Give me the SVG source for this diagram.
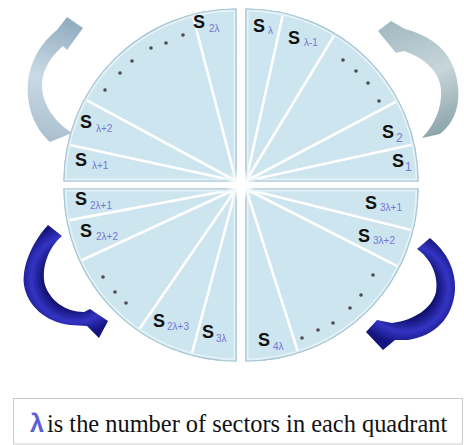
<svg xmlns="http://www.w3.org/2000/svg" xmlns:xlink="http://www.w3.org/1999/xlink" width="464" height="445" viewBox="0 0 464 445">
  <defs>
    <style>
      .quad { fill: #cde5ee; stroke: #a9c8d5; stroke-width: 1.2; }
      .rim { fill: none; stroke: #e4f1f6; stroke-width: 5; }
      .sector { stroke: #ffffff; stroke-width: 2.6; stroke-linecap: round; }
      .dot { fill: #4d4d4d; }
      .s { font-family: "Liberation Sans", Arial, sans-serif; font-weight: bold; font-size: 18px; fill: #111111; }
      .sub { font-family: "Liberation Sans", Arial, sans-serif; font-size: 10px; fill: #7676d6; }
      .subn { font-family: "Liberation Sans", Arial, sans-serif; font-size: 12px; fill: #7676d6; }
      .lam { font-family: "Liberation Sans", Arial, sans-serif; font-weight: bold; font-size: 25px; fill: #5e5ed8; }
    </style>

    <!-- quadrant outlines -->
    <path id="qTL" d="M236,181 L64,181 A172,172 0 0 1 236,9 Z"/>
    <path id="qTR" d="M246,181 L246,9 A172,172 0 0 1 418,181 Z"/>
    <path id="qBL" d="M236,189 L236,361 A172,172 0 0 1 64,189 Z"/>
    <path id="qBR" d="M246,189 L418,189 A172,172 0 0 1 246,361 Z"/>
    <clipPath id="cTL"><use xlink:href="#qTL"/></clipPath>
    <clipPath id="cTR"><use xlink:href="#qTR"/></clipPath>
    <clipPath id="cBL"><use xlink:href="#qBL"/></clipPath>
    <clipPath id="cBR"><use xlink:href="#qBR"/></clipPath>

    <!-- arrow shading -->
    <linearGradient id="gLightL" gradientUnits="userSpaceOnUse" x1="80" y1="20" x2="40" y2="145">
      <stop offset="0" stop-color="#8ea9bd"/>
      <stop offset="0.5" stop-color="#c9dae5"/>
      <stop offset="1" stop-color="#a6bccb"/>
    </linearGradient>
    <linearGradient id="gLightR" gradientUnits="userSpaceOnUse" x1="385" y1="25" x2="430" y2="140">
      <stop offset="0" stop-color="#a3bac1"/>
      <stop offset="0.5" stop-color="#c7d6da"/>
      <stop offset="1" stop-color="#8aa2a9"/>
    </linearGradient>
    <radialGradient id="gDarkL" gradientUnits="userSpaceOnUse" cx="75" cy="278" r="56">
      <stop offset="0.55" stop-color="#10106e"/>
      <stop offset="0.78" stop-color="#3434c4"/>
      <stop offset="1" stop-color="#15157f"/>
    </radialGradient>
    <radialGradient id="gDarkR" gradientUnits="userSpaceOnUse" cx="405" cy="288" r="56">
      <stop offset="0.55" stop-color="#10106e"/>
      <stop offset="0.78" stop-color="#3434c4"/>
      <stop offset="1" stop-color="#15157f"/>
    </radialGradient>
    <radialGradient id="gGlow" cx="0.5" cy="0.5" r="0.5">
      <stop offset="0" stop-color="#ffffff" stop-opacity="1"/>
      <stop offset="0.5" stop-color="#ffffff" stop-opacity="0.8"/>
      <stop offset="1" stop-color="#ffffff" stop-opacity="0"/>
    </radialGradient>
  </defs>

  <rect width="464" height="445" fill="#ffffff"/>

  <!-- quadrant 1: sectors S1 .. Sλ -->
  <g id="quadrant-top-right">
    <use xlink:href="#qTR" class="quad"/>
    <line class="sector" x1="246" y1="181" x2="414.2" y2="144.3"/>
    <line class="sector" x1="246" y1="181" x2="398.6" y2="100.3"/>
    <line class="sector" x1="246" y1="181" x2="335" y2="34"/>
    <line class="sector" x1="246" y1="181" x2="283.2" y2="13"/>
    <use xlink:href="#qTR" class="rim" clip-path="url(#cTR)"/>
    <use xlink:href="#qTR" fill="none" stroke="#a9c8d5" stroke-width="1.2"/>
    <circle class="dot" cx="343" cy="60" r="1.8"/>
    <circle class="dot" cx="356" cy="71" r="1.8"/>
    <circle class="dot" cx="368" cy="83" r="1.8"/>
    <circle class="dot" cx="379" cy="101" r="1.8"/>
    <text class="s" x="253" y="32">S</text><text class="sub" x="268" y="34">λ</text>
    <text class="s" x="288" y="44">S</text><text class="sub" x="304" y="46">λ-1</text>
    <text class="s" x="382" y="138">S</text><text class="subn" x="396" y="142">2</text>
    <text class="s" x="392" y="167">S</text><text class="subn" x="405" y="171">1</text>
  </g>

  <!-- quadrant 2: sectors Sλ+1 .. S2λ -->
  <g id="quadrant-top-left">
    <use xlink:href="#qTL" class="quad"/>
    <line class="sector" x1="236" y1="181" x2="67.9" y2="144.6"/>
    <line class="sector" x1="236" y1="181" x2="84.7" y2="99.2"/>
    <line class="sector" x1="236" y1="181" x2="192.4" y2="14.6"/>
    <use xlink:href="#qTL" class="rim" clip-path="url(#cTL)"/>
    <use xlink:href="#qTL" fill="none" stroke="#a9c8d5" stroke-width="1.2"/>
    <circle class="dot" cx="105" cy="90" r="1.8"/>
    <circle class="dot" cx="120" cy="73" r="1.8"/>
    <circle class="dot" cx="132" cy="61" r="1.8"/>
    <circle class="dot" cx="151" cy="48" r="1.8"/>
    <circle class="dot" cx="166" cy="43" r="1.8"/>
    <circle class="dot" cx="183" cy="35" r="1.8"/>
    <text class="s" x="193" y="28">S</text><text class="sub" x="209" y="32">2λ</text>
    <text class="s" x="80" y="128">S</text><text class="sub" x="96" y="132">λ+2</text>
    <text class="s" x="75" y="166">S</text><text class="sub" x="92" y="169">λ+1</text>
  </g>

  <!-- quadrant 3: sectors S2λ+1 .. S3λ -->
  <g id="quadrant-bottom-left">
    <use xlink:href="#qBL" class="quad"/>
    <line class="sector" x1="236" y1="189" x2="66.9" y2="220.6"/>
    <line class="sector" x1="236" y1="189" x2="80" y2="261"/>
    <line class="sector" x1="236" y1="189" x2="138.4" y2="330.6"/>
    <line class="sector" x1="236" y1="189" x2="191.5" y2="355"/>
    <use xlink:href="#qBL" class="rim" clip-path="url(#cBL)"/>
    <use xlink:href="#qBL" fill="none" stroke="#a9c8d5" stroke-width="1.2"/>
    <circle class="dot" cx="103" cy="277" r="1.8"/>
    <circle class="dot" cx="115" cy="292" r="1.8"/>
    <circle class="dot" cx="126" cy="303" r="1.8"/>
    <text class="s" x="75" y="205">S</text><text class="sub" x="90" y="209">2λ+1</text>
    <text class="s" x="80" y="237">S</text><text class="sub" x="96" y="240">2λ+2</text>
    <text class="s" x="153" y="327">S</text><text class="sub" x="167" y="330">2λ+3</text>
    <text class="s" x="202" y="338">S</text><text class="sub" x="216" y="342">3λ</text>
  </g>

  <!-- quadrant 4: sectors S3λ+1 .. S4λ -->
  <g id="quadrant-bottom-right">
    <use xlink:href="#qBR" class="quad"/>
    <line class="sector" x1="246" y1="189" x2="413.3" y2="230.6"/>
    <line class="sector" x1="246" y1="189" x2="399.3" y2="267.1"/>
    <line class="sector" x1="246" y1="189" x2="298.3" y2="352.9"/>
    <use xlink:href="#qBR" class="rim" clip-path="url(#cBR)"/>
    <use xlink:href="#qBR" fill="none" stroke="#a9c8d5" stroke-width="1.2"/>
    <circle class="dot" cx="373" cy="275" r="1.8"/>
    <circle class="dot" cx="361" cy="295" r="1.8"/>
    <circle class="dot" cx="350" cy="308" r="1.8"/>
    <circle class="dot" cx="333" cy="323" r="1.8"/>
    <circle class="dot" cx="318" cy="330" r="1.8"/>
    <circle class="dot" cx="302" cy="338" r="1.8"/>
    <text class="s" x="365" y="209">S</text><text class="sub" x="380" y="211">3λ+1</text>
    <text class="s" x="358" y="242">S</text><text class="sub" x="373" y="244">3λ+2</text>
    <text class="s" x="258" y="346">S</text><text class="sub" x="273" y="350">4λ</text>
  </g>

  <!-- bright hub where the sector lines meet -->
  <circle cx="241" cy="185" r="16" fill="url(#gGlow)"/>

  <!-- rotation arrows -->
  <g id="connectors">
    <path id="arrow-top-left" fill="url(#gLightL)"
      d="M50,142 C34,128 26,105 28,83 C30,60 42,42 57,30 L67,17 L83,28 L67,50 L63,46 C51,56 42,70 42,85 C42,105 55,122 72,133 Z"/>
    <path id="arrow-top-right" fill="url(#gLightR)"
      d="M440,134 C455,122 460,105 458,87 C456,60 440,38 405,29 L391,21 L378,31 L396,53 L404,51 C425,58 440,72 441,90 C442,108 435,124 422,138 Z"/>
    <path id="arrow-bottom-left" fill="url(#gDarkL)"
      d="M48,225 C30,245 22,268 24,285 C27,305 45,322 70,325 L87,326 L99,338 L108,321 L90,309 L84,312 C65,312 50,300 45,285 C41,268 48,248 62,236 Z"/>
    <path id="arrow-bottom-right" fill="url(#gDarkR)"
      d="M430,238 C447,252 456,270 455,290 C453,318 435,336 408,340 L395,340 L383,350 L366,332 L377,320 L392,323 C415,320 432,308 436,292 C439,275 430,258 417,249 Z"/>
  </g>

  <!-- legend -->
  <g id="legend">
    <rect x="13.5" y="398.5" width="449" height="45.5" fill="#ffffff" stroke="#cccccc" stroke-width="1"/>
    <text class="lam" x="30" y="432">λ</text>
    <text x="47" y="432" font-family="'Liberation Serif', 'DejaVu Serif', 'Times New Roman', serif" font-size="24.4" fill="#111111">is the number of sectors in each quadrant</text>
  </g>
</svg>
